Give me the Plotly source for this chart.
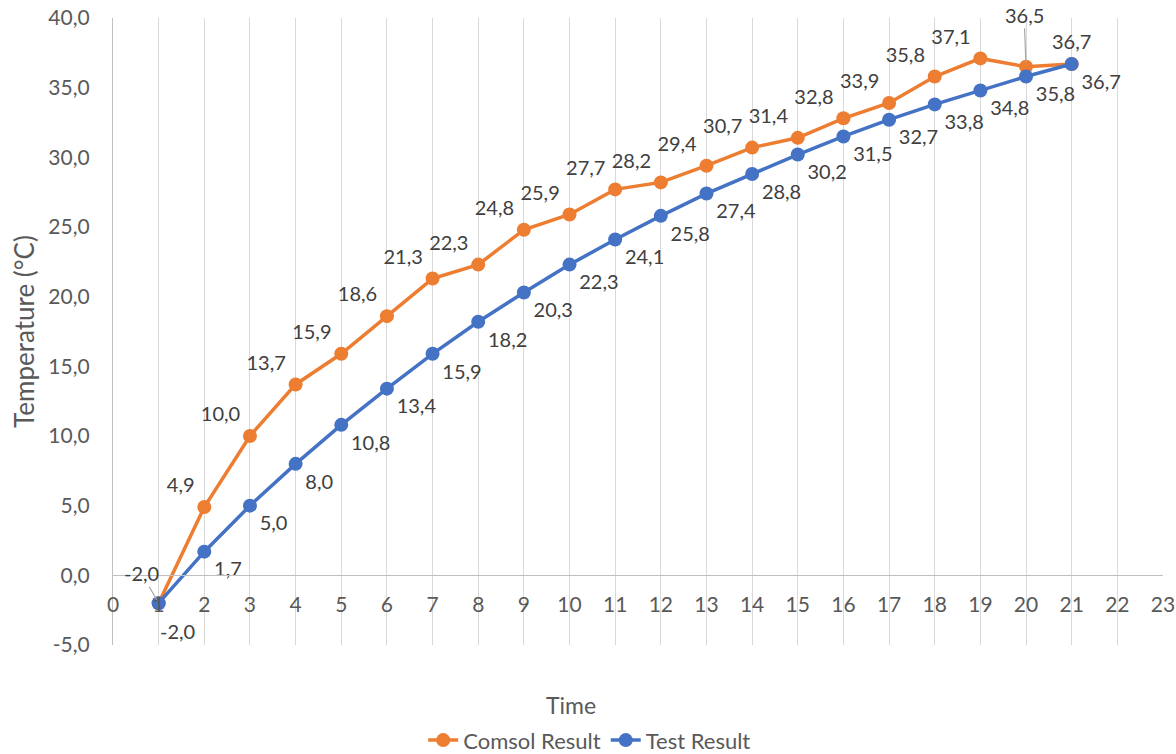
import plotly.graph_objects as go

time = list(range(1, 22))
comsol = [-2.0, 4.9, 10.0, 13.7, 15.9, 18.6, 21.3, 22.3, 24.8, 25.9, 27.7, 28.2,
          29.4, 30.7, 31.4, 32.8, 33.9, 35.8, 37.1, 36.5, 36.7]
test = [-2.0, 1.7, 5.0, 8.0, 10.8, 13.4, 15.9, 18.2, 20.3, 22.3, 24.1, 25.8,
        27.4, 28.8, 30.2, 31.5, 32.7, 33.8, 34.8, 35.8, 36.7]
y_ticks = [-5, 0, 5, 10, 15, 20, 25, 30, 35, 40]
x_ticks = list(range(0, 24))


def fmt(v):
    return f"{v:.1f}".replace(".", ",")


FONT = "Lato"
ORANGE = "#ED7D31"
BLUE = "#4472C4"
LABEL_FONT = dict(family=FONT, size=20, color="#404040")

# Comsol labels: two of them use leader lines (annotations), others top-left
leader = {1: (-17, -30), 20: (-2, -52)}
# Test label moved manually (pixel shift)
test_shift = {1: (19, -28)}

c_text, c_pos = [], []
for t, v in zip(time, comsol):
    c_text.append("" if t in leader else fmt(v))
    c_pos.append("top center" if t == time[-1] else "top left")

t_text = ["" if t in test_shift else fmt(v) for t, v in zip(time, test)]

fig = go.Figure()
fig.add_trace(go.Scatter(
    x=time, y=comsol, name="Comsol Result", mode="lines+markers+text",
    line=dict(color=ORANGE, width=3.5), marker=dict(color=ORANGE, size=14),
    text=c_text, textposition=c_pos, textfont=LABEL_FONT, cliponaxis=False,
))
fig.add_trace(go.Scatter(
    x=time, y=test, name="Test Result", mode="lines+markers+text",
    line=dict(color=BLUE, width=3.5), marker=dict(color=BLUE, size=14),
    text=t_text, textposition="bottom right", textfont=LABEL_FONT,
    cliponaxis=False,
))

for t, (ax, ay) in leader.items():
    i = time.index(t)
    fig.add_annotation(
        x=t, y=comsol[i], text=fmt(comsol[i]), ax=ax, ay=ay,
        showarrow=True, arrowhead=0, arrowwidth=1.2, arrowcolor="#a6a6a6",
        standoff=4, font=LABEL_FONT,
    )

for t, (dx, dy) in test_shift.items():
    i = time.index(t)
    fig.add_annotation(
        x=t, y=test[i], text=fmt(test[i]), showarrow=False,
        xshift=dx, yshift=dy, font=LABEL_FONT,
    )

fig.add_annotation(
    text="Time", xref="paper", yref="paper", x=0.436, y=-0.0957,
    xanchor="center", yanchor="middle",
    showarrow=False, font=dict(family=FONT, size=23, color="#595959"),
)

ymin, ymax = y_ticks[0], y_ticks[-1]
fig.update_layout(
    width=1176, height=754,
    margin=dict(l=113, r=13, t=18, b=109, autoexpand=False),
    plot_bgcolor="white", paper_bgcolor="white",
    font=dict(family=FONT, size=21, color="#595959"),
    showlegend=True,
    legend=dict(orientation="h", xref="paper", yref="paper",
                x=0.454, xanchor="center", y=-0.152, yanchor="middle",
                font=dict(family=FONT, size=22, color="#595959")),
    xaxis=dict(range=[x_ticks[0], x_ticks[-1]], tickvals=x_ticks,
               showgrid=True, gridcolor="#d9d9d9", gridwidth=1.3,
               zeroline=False, showline=True, linecolor="#bfbfbf", linewidth=1.3,
               anchor="free", position=(0 - ymin) / (ymax - ymin),
               ticks="", ticklabelstandoff=10, automargin=False,
               ticklabeloverflow="allow",
               tickfont=dict(family=FONT, size=21, color="#595959")),
    yaxis=dict(range=[ymin, ymax], tickvals=y_ticks,
               ticktext=[fmt(v) for v in y_ticks],
               showgrid=False, zeroline=False, showline=True,
               linecolor="#bfbfbf", linewidth=1.3, ticks="",
               ticklabelstandoff=18, automargin=False,
               ticklabeloverflow="allow",
               title=dict(text="Temperature (°C)", standoff=6,
                          font=dict(family=FONT, size=26, color="#595959")),
               tickfont=dict(family=FONT, size=21, color="#595959")),
)

fig.write_html("out.html",
               config={"displayModeBar": False},
               post_script="document.body.style.margin='0px';")
